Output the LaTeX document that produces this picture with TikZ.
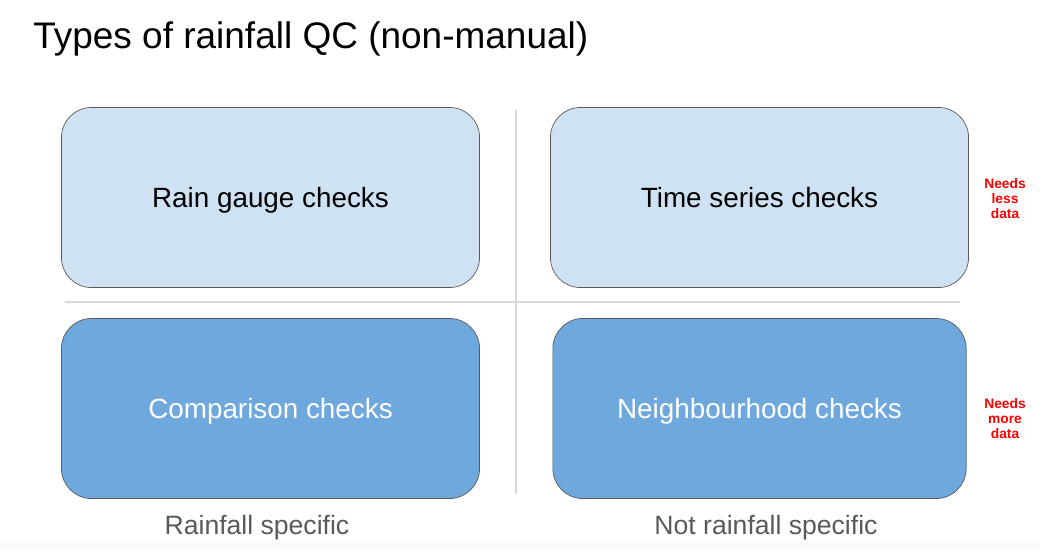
\documentclass[tikz,border=0pt]{standalone}
\usepackage{fontspec}
\setmainfont{Liberation Sans}
\usepackage{xcolor}
\usetikzlibrary{positioning}

\definecolor{lightblue}{HTML}{CFE2F3}
\definecolor{midblue}{HTML}{6FA8DC}
\definecolor{edgegray}{HTML}{595959}
\definecolor{rulegray}{HTML}{D9D9D9}
\definecolor{labelgray}{HTML}{595959}

\begin{document}
\begin{tikzpicture}[
  x=0.025cm, y=-0.025cm,
  qcbox/.style={draw=edgegray, line width=0.5pt, rounded corners=0.75cm,
    minimum width=10.45cm, minimum height=4.5cm, inner sep=0pt,
    text depth=0pt, font=\fontsize{19.8}{24}\selectfont},
  light/.style={qcbox, fill=lightblue, text=black},
  dark/.style={qcbox, fill=midblue, text=white},
  note/.style={text=red, font=\fontsize{9.8}{10.7}\selectfont\bfseries, align=center},
  axis/.style={font=\fontsize{18.9}{22}\selectfont, text=labelgray}
]
\useasboundingbox (0,0) rectangle (1040,549);
\fill[gray!5] (0,541) rectangle (1040,549);

\node[anchor=base west, inner sep=0pt, font=\fontsize{26.3}{31}\selectfont] (title) at (33,48) {Types of rainfall QC (non-manual)};

% dividers
\coordinate (vtop) at (516,110);
\coordinate (vbot) at (516,494);
\coordinate (hleft) at (65,302);
\coordinate (hright) at (960,302);
\draw[rulegray, line width=0.8pt] (vtop) -- (vbot);
\draw[rulegray, line width=0.8pt] (hleft) -- (hright);

\node[light] (gauge) at (270.5,197.5) {Rain gauge checks};
\node[light] (series) at (759.5,197.5) {Time series checks};
\node[dark] (compare) at (270.5,408.5) {Comparison checks};
\node[dark, minimum width=10.33cm] (neigh) at (759.5,408.5) {Neighbourhood checks};

\node[note] (less) at (1005,199) {Needs\\less\\data};
\node[note] (more) at (1005,419) {Needs\\more\\data};

\node[axis, anchor=base] (rain) at (257,534) {Rainfall specific};
\node[axis, anchor=base] (notrain) at (766,534) {Not rainfall specific};
\end{tikzpicture}
\end{document}
